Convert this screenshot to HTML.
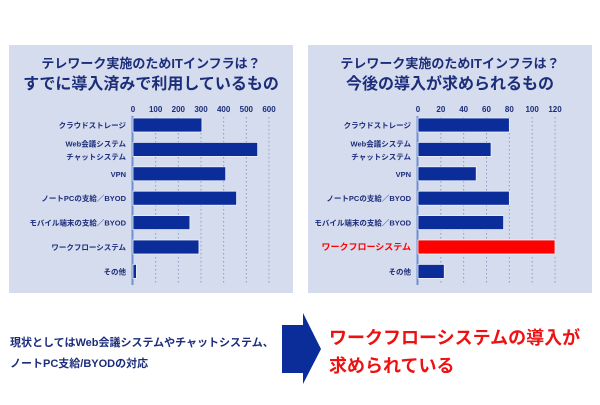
<!DOCTYPE html>
<html><head><meta charset="utf-8">
<style>
html,body{margin:0;padding:0;background:#fff;width:600px;height:405px;overflow:hidden;font-family:"Liberation Sans","Noto Sans CJK JP",sans-serif;}
svg text{font-family:"Liberation Sans","Noto Sans CJK JP",sans-serif;font-weight:bold;}
</style></head>
<body>
<svg id="c" width="600" height="405" xmlns="http://www.w3.org/2000/svg">
  <rect x="9" y="45" width="284" height="248" fill="#d5dcee"/>
  <rect x="308" y="45" width="284" height="248" fill="#d5dcee"/>
  <text x="151" y="68" text-anchor="middle" font-size="13" fill="#1c2d7a">テレワーク実施のためITインフラは？</text>
  <text x="151" y="89" text-anchor="middle" font-size="16" fill="#1c2d7a">すでに導入済みで利用しているもの</text>
  <text x="450" y="68" text-anchor="middle" font-size="13" fill="#1c2d7a">テレワーク実施のためITインフラは？</text>
  <text x="450" y="89" text-anchor="middle" font-size="16" fill="#1c2d7a">今後の導入が求められるもの</text>
  <text x="10" y="346" font-size="11" fill="#1c2d7a">現状としてはWeb会議システムやチャットシステム、</text>
  <text x="10" y="367" font-size="11" fill="#1c2d7a">ノートPC支給/BYODの対応</text>
  <polygon points="282,325 303,325 303,313 321,349 303,384 303,373 282,373" fill="#0a2d9a"/>
  <text x="329" y="344" font-size="18" fill="#ee1111">ワークフローシステムの導入が</text>
  <text x="329" y="372" font-size="18" fill="#ee1111">求められている</text>
</svg>
<script>
const categories = ["クラウドストレージ", "Web会議システム|チャットシステム", "VPN", "ノートPCの支給／BYOD", "モバイル端末の支給／BYOD", "ワークフローシステム", "その他"];
const currentValues = [304, 550, 409, 457, 251, 291, 15];
const futureValues = [80, 64, 51, 80, 75, 120, 23];
const leftTicks = [0, 100, 200, 300, 400, 500, 600];
const rightTicks = [0, 20, 40, 60, 80, 100, 120];

const svg = document.getElementById('c');
const NS = 'http://www.w3.org/2000/svg';
function mk(tag, attrs){const e=document.createElementNS(NS,tag);for(const k in attrs)e.setAttribute(k,attrs[k]);svg.appendChild(e);return e;}

function drawChart(prefix, x0, x1, maxV, ticks, values, highlight){
  const xs = v => x0 + (x1 - x0) * v / maxV;
  const rowY = i => 125 + i * 24.4;
  ticks.forEach(t => {
    const x = xs(t);
    const tx = mk('text',{x:x,y:112,'text-anchor':'middle','font-size':8,fill:'#1c2d7a'});
    tx.textContent = t;
    
    
    if (t > 0) {
      const g = mk('line',{x1:x,x2:x,y1:117,y2:284,stroke:'#8a9bc8','stroke-width':1,'stroke-dasharray':'1.5,2.5'});
      
      
    }
  });
  const ax = mk('line',{x1:x0-0.5,x2:x0-0.5,y1:116,y2:285,stroke:'#6f8fd0','stroke-width':2});
  
  
  values.forEach((v,i) => {
    const y = rowY(i);
    const red = (i === highlight);
    const b = mk('rect',{x:x0,y:y-7,width:xs(v)-x0,height:14,fill:red?'#ff0000':'#0a2d9a',stroke:'#eef1fa','stroke-width':0.8});
    
    
    const lines = categories[i].split('|');
    lines.forEach((ln,j) => {
      const fs = red ? 9 : 7.5;
      const ty = y + 3 + (lines.length === 2 ? (j === 0 ? -6 : 7) : 0);
      const t = mk('text',{x:x0-7,y:ty,'text-anchor':'end','font-size':fs,fill:red?'#ff0000':'#1c2d7a'});
      t.textContent = ln;
      
      
    });
  });
}
drawChart('left', 133, 269, 600, leftTicks, currentValues, -1);
drawChart('right', 418, 555, 120, rightTicks, futureValues, 5);
</script>
</body></html>
